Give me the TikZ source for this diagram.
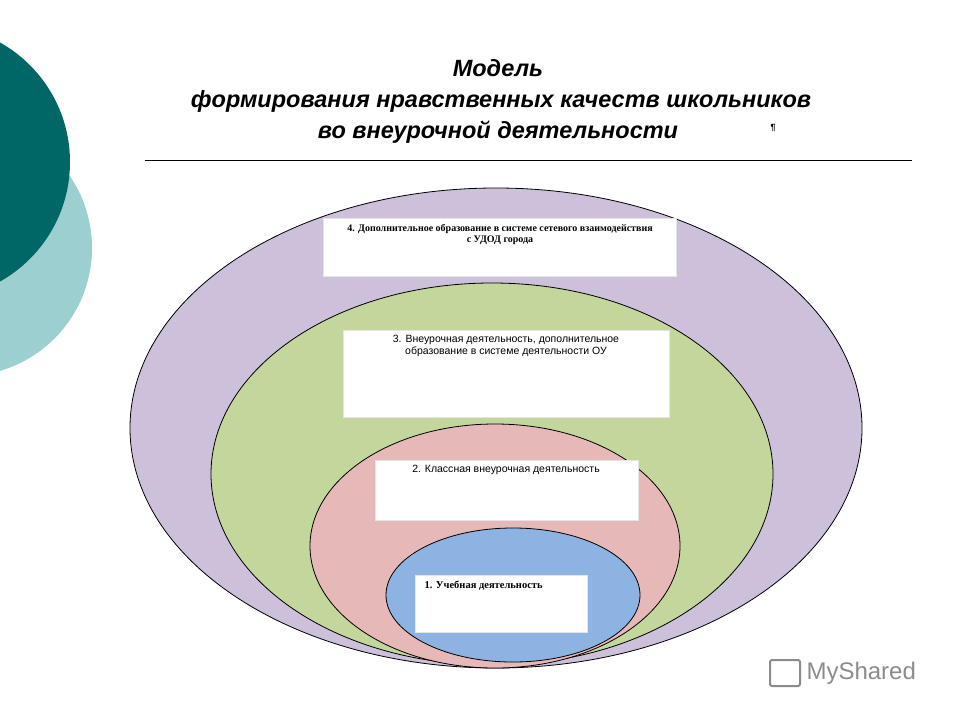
\documentclass[tikz,border=0pt]{standalone}
\usepackage{fontspec}
\setmainfont{Liberation Sans}
\newfontfamily\serifru{Liberation Serif}
\begin{document}
\begin{tikzpicture}[x=1pt,y=-1pt,
  ring/.style={draw=black,line width=0.8pt},
  wbox/.style={fill=white,draw=white!90!black,line width=0.3pt},
  btxt/.style={font=\fontsize{10.5}{12}\selectfont,align=center,anchor=north}]
\useasboundingbox (0,0) rectangle (960,720);
\fill[white] (0,0) rectangle (960,720);
\begin{scope}
\clip (0,0) rectangle (960,720);
\fill[fill={rgb,255:red,156;green,207;blue,207}] (-36,248) circle (128);
\fill[fill={rgb,255:red,0;green,102;blue,102}] (-67,162) circle (137);
\end{scope}
\node (t1) at (498,68) {\fontsize{23.5}{26}\selectfont\bfseries\itshape Модель};
\node (t2) at (501,101) {\fontsize{23.5}{26}\selectfont\bfseries\itshape формирования нравственных качеств  школьников};
\node (t3) at (498,132) {\fontsize{23.5}{26}\selectfont\bfseries\itshape во внеурочной деятельности};
\node (pm) at (773,128) {\fontsize{9}{10}\selectfont\bfseries ¶};
\draw[line width=0.6pt] (145,160) -- (912,160);
\draw[ring,fill={rgb,255:red,204;green,192;blue,218}] (496,428) ellipse [x radius=366,y radius=240];
\fill[wbox] (323,218) rectangle (676,276);
\node[btxt,font=\serifru\bfseries\fontsize{10}{11}\selectfont] (b4) at (500,221) {4. Дополнительное образование в системе сетевого взаимодействия\\ с УДОД города};
\draw[ring,fill={rgb,255:red,195;green,214;blue,155}] (492,474) ellipse [x radius=281,y radius=191];
\fill[wbox] (343,330) rectangle (669,417);
\node[btxt] (b3) at (506,332) {3. Внеурочная деятельность, дополнительное\\ образование  в системе деятельности ОУ};
\draw[ring,fill={rgb,255:red,230;green,185;blue,184}] (495,546) ellipse [x radius=185,y radius=122];
\fill[wbox] (375,460) rectangle (638,520);
\node[btxt] (b2) at (506,462) {2. Классная внеурочная деятельность};
\draw[ring,fill={rgb,255:red,141;green,179;blue,226}] (513,595) ellipse [x radius=127,y radius=67];
\fill[wbox] (415,575) rectangle (587,632);
\node[btxt,anchor=north west,font=\serifru\bfseries\fontsize{10.5}{12}\selectfont] (b1) at (421,577) {1. Учебная деятельность};
\node[text=black!45,anchor=west] (logo) at (803,673) {\fontsize{24}{26}\selectfont MyShared};
\draw[black!45,line width=2pt,rounded corners=2pt] (770,660) rectangle (800,686);
\end{tikzpicture}
\end{document}
